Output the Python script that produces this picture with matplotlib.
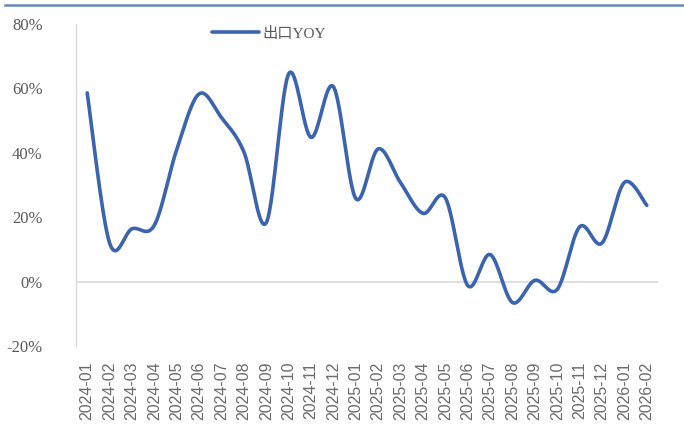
import numpy as np
import matplotlib
matplotlib.use("Agg")
import matplotlib.pyplot as plt
from matplotlib.lines import Line2D
from matplotlib.ticker import FuncFormatter

months = ["2024-01","2024-02","2024-03","2024-04","2024-05","2024-06","2024-07","2024-08",
          "2024-09","2024-10","2024-11","2024-12","2025-01","2025-02","2025-03","2025-04",
          "2025-05","2025-06","2025-07","2025-08","2025-09","2025-10","2025-11","2025-12",
          "2026-01","2026-02"]
export_yoy = [58.6, 12.0, 16.4, 17.5, 41.0, 58.3, 50.9, 40.3,
              18.3, 64.5, 44.8, 60.5, 25.8, 41.2, 30.7, 21.2,
              26.0, -1.2, 8.4, -6.5, 0.4, -2.4, 17.0, 12.0,
              30.8, 23.7]
series_name = "出口YOY"

plt.rcParams['font.family'] = ['Liberation Serif', 'Noto Sans CJK SC']

def smooth(x, y, n=30):
    # Catmull-Rom style Bezier smoothing (as in spreadsheet "smoothed line")
    x = np.asarray(x, float); y = np.asarray(y, float)
    px = np.concatenate([[x[0]], x, [x[-1]]])
    py = np.concatenate([[y[0]], y, [y[-1]]])
    xs, ys = [], []
    t = np.linspace(0, 1, n)
    for i in range(1, len(px) - 2):
        p0 = np.array([px[i], py[i]]); p3 = np.array([px[i+1], py[i+1]])
        c1 = p0 + (np.array([px[i+1], py[i+1]]) - np.array([px[i-1], py[i-1]])) / 6
        c2 = p3 - (np.array([px[i+2], py[i+2]]) - np.array([px[i], py[i]])) / 6
        b = ((1-t)**3)[:, None]*p0 + (3*(1-t)**2*t)[:, None]*c1 + (3*(1-t)*t**2)[:, None]*c2 + (t**3)[:, None]*p3
        xs.append(b[:, 0]); ys.append(b[:, 1])
    return np.concatenate(xs), np.concatenate(ys)

fig = plt.figure(figsize=(6.84, 4.34), dpi=100)
ax = fig.add_axes([76/684, 88/434, 582/684, 322/434])

xi = np.arange(len(months))
sx, sy = smooth(xi, export_yoy)
ax.plot(sx, sy, color='#3a63b0', lw=2.6, solid_capstyle='round', label=series_name)

ax.set_xlim(-0.5, len(months) - 0.5)
ax.set_ylim(-20, 80)
ax.set_yticks(np.arange(-20, 81, 20))
ax.yaxis.set_major_formatter(FuncFormatter(lambda v, p: f"{v:.0f}%"))
ax.set_xticks(xi)
ax.set_xticklabels(months, rotation=90, fontsize=11.5, color='#6a6a6a', family=['Liberation Sans'])
ax.tick_params(axis='y', length=0, labelsize=12, labelcolor='#595959', pad=24)
ax.tick_params(axis='x', length=0, pad=11)

for s in ['top', 'right', 'bottom']:
    ax.spines[s].set_visible(False)
ax.spines['left'].set_color('#d9d9d9')
ax.spines['left'].set_linewidth(1)
ax.axhline(0, color='#d9d9d9', lw=1.2, zorder=0)

leg = ax.legend(loc='upper center', bbox_to_anchor=(269/684, 1 - 16/434), bbox_transform=fig.transFigure,
                frameon=False, handlelength=3.1, handletextpad=0.2, fontsize=11, borderpad=0.2)
for t in leg.get_texts():
    t.set_color('#595959')

fig.add_artist(Line2D([5/684, 1], [1 - 5/434, 1 - 5/434], transform=fig.transFigure,
                      color='#6a87b8', lw=1.8))

fig.savefig('out.png', dpi=100)
